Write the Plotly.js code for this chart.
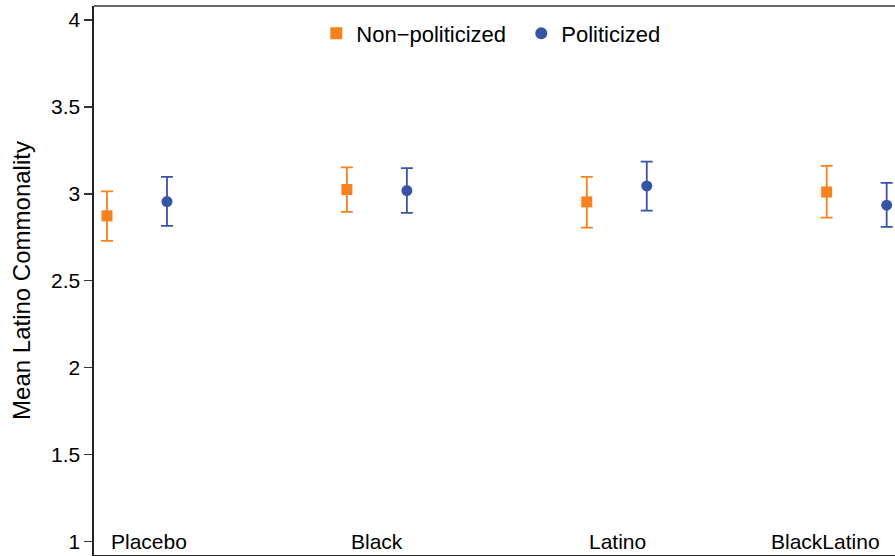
<!DOCTYPE html>
<html>
<head>
<meta charset="utf-8">
<script src="https://cdn.plot.ly/plotly-3.0.1.min.js"></script>
<style>html,body{margin:0;padding:0;background:#fff;}#chart{width:895px;height:556px;}</style>
</head>
<body>
<div id="chart"></div>
<script>
// ---- data ----
const categories = ["Placebo", "Black", "Latino", "BlackLatino"];
const nonPolMean = [2.874, 3.025, 2.954, 3.011];
const nonPolLo   = [2.730, 2.897, 2.806, 2.864];
const nonPolHi   = [3.015, 3.153, 3.098, 3.161];
const polMean    = [2.956, 3.019, 3.046, 2.935];
const polLo      = [2.816, 2.891, 2.904, 2.810];
const polHi      = [3.098, 3.148, 3.186, 3.063];
const yTicks     = [1, 1.5, 2, 2.5, 3, 3.5, 4];

// ---- styling ----
const ORANGE = "#F5821F";
const BLUE = "#3953A4";
const FONT = "Liberation Sans, Arial, Helvetica, sans-serif";
const POL_OFFSET = 0.25;             // horizontal offset of the politicized point
const labelShift = [0.05, 0, 0.005, -0.129]; // label nudges relative to group centre

const idx = categories.map((c, i) => i + 1);
const xNon = idx.slice();
const xPol = idx.map(v => v + POL_OFFSET);

function errs(mean, lo, hi) {
  return {
    type: "data", symmetric: false,
    array: hi.map((h, i) => h - mean[i]),
    arrayminus: mean.map((m, i) => m - lo[i])
  };
}

const traces = [
  {
    type: "scatter", mode: "markers", name: "Non\u2212politicized",
    x: xNon, y: nonPolMean,
    marker: {symbol: "square", size: 11, color: ORANGE},
    error_y: Object.assign(errs(nonPolMean, nonPolLo, nonPolHi), {color: ORANGE, thickness: 1.8, width: 6}),
    cliponaxis: false
  },
  {
    type: "scatter", mode: "markers", name: "Politicized",
    x: xPol, y: polMean,
    marker: {symbol: "circle", size: 11, color: BLUE},
    error_y: Object.assign(errs(polMean, polLo, polHi), {color: BLUE, thickness: 1.8, width: 6}),
    cliponaxis: false
  }
];

const annotations = categories.map((c, i) => ({
  x: idx[i] + POL_OFFSET / 2 + labelShift[i], y: 1, xref: "x", yref: "y",
  text: c, showarrow: false, xanchor: "center", yanchor: "middle",
  font: {family: FONT, size: 21, color: "#000"}
}));

const layout = {
  width: 895, height: 556,
  margin: {l: 94, r: 0, t: 6, b: 1, pad: 0},
  paper_bgcolor: "#fff", plot_bgcolor: "#fff",
  font: {family: FONT, color: "#000"},
  showlegend: true,
  legend: {
    orientation: "h", x: 0.2775, xanchor: "left", y: 0.95, yanchor: "middle",
    font: {family: FONT, size: 22, color: "#000"},
    bgcolor: "rgba(0,0,0,0)", entrywidth: 160, entrywidthmode: "pixels",
    itemsizing: "constant"
  },
  xaxis: {
    range: [0.9458, 4.2847], showgrid: false, zeroline: false,
    showticklabels: false, ticks: "", showline: true, linecolor: "#222", linewidth: 2
  },
  yaxis: {
    range: [0.9235, 4.0805], tickvals: yTicks, ticktext: yTicks.map(String),
    ticks: "outside", ticklen: 8, tickwidth: 1.2, tickcolor: "#333",
    tickfont: {family: FONT, size: 21, color: "#000"},
    showgrid: false, zeroline: false, showline: true, linecolor: "#222", linewidth: 1.6,
    title: {text: "Mean Latino Commonality", font: {family: FONT, size: 24, color: "#000"}, standoff: 13}
  },
  shapes: [
    {type: "line", xref: "paper", yref: "paper", x0: 0, x1: 1, y0: 1, y1: 1,
     line: {color: "#666", width: 2}}
  ],
  annotations: annotations
};

Plotly.newPlot("chart", traces, layout, {displayModeBar: false, staticPlot: true});
</script>
</body>
</html>
